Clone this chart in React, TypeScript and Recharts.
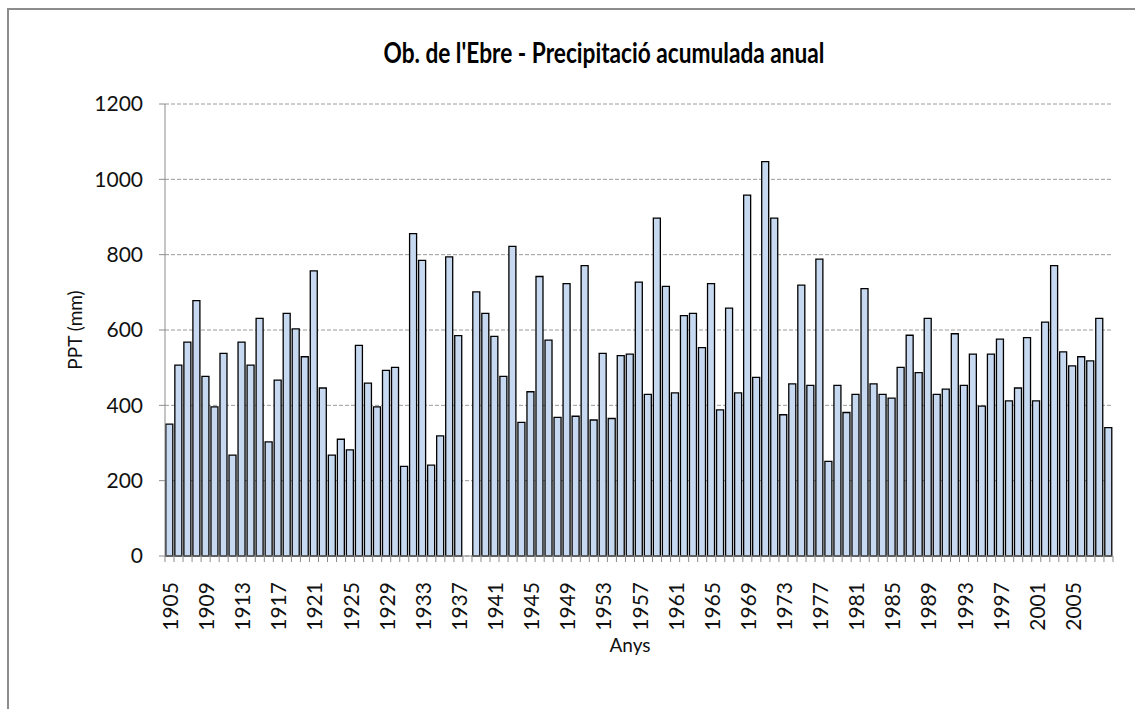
import React from 'react';
import { BarChart, Bar, XAxis, YAxis, CartesianGrid } from 'recharts';

// Anys 1905-2009 (1938 sense dades)
const years = [
  1905, 1906, 1907, 1908, 1909, 1910, 1911, 1912, 1913, 1914,
  1915, 1916, 1917, 1918, 1919, 1920, 1921, 1922, 1923, 1924,
  1925, 1926, 1927, 1928, 1929, 1930, 1931, 1932, 1933, 1934,
  1935, 1936, 1937, 1938, 1939, 1940, 1941, 1942, 1943, 1944,
  1945, 1946, 1947, 1948, 1949, 1950, 1951, 1952, 1953, 1954,
  1955, 1956, 1957, 1958, 1959, 1960, 1961, 1962, 1963, 1964,
  1965, 1966, 1967, 1968, 1969, 1970, 1971, 1972, 1973, 1974,
  1975, 1976, 1977, 1978, 1979, 1980, 1981, 1982, 1983, 1984,
  1985, 1986, 1987, 1988, 1989, 1990, 1991, 1992, 1993, 1994,
  1995, 1996, 1997, 1998, 1999, 2000, 2001, 2002, 2003, 2004,
  2005, 2006, 2007, 2008, 2009,
];

const ppt: (number | null)[] = [
  350, 507, 568, 678, 477, 396, 538, 268, 568, 507,
  631, 303, 467, 644, 603, 529, 757, 446, 268, 310,
  282, 559, 459, 396, 493, 501, 238, 856, 785, 241,
  319, 794, 585, null, 701, 644, 583, 477, 822, 355,
  436, 742, 573, 368, 723, 371, 771, 361, 538, 365,
  532, 536, 727, 429, 897, 716, 433, 638, 644, 553,
  723, 388, 658, 433, 958, 474, 1047, 897, 375, 457,
  719, 453, 788, 251, 453, 381, 429, 710, 457, 429,
  419, 501, 586, 487, 631, 429, 443, 590, 453, 536,
  398, 536, 576, 412, 446, 580, 412, 621, 771, 542,
  505, 529, 518, 631, 341,
];

const yTicks = [0, 200, 400, 600, 800, 1000, 1200];

const data = years.map((y, i) => ({ year: String(y), ppt: ppt[i] }));

const FONT = 'Lato, "Open Sans", sans-serif';
const HALF_BAND = 4.515;

const YearTick = (props: any) => {
  const { x, y, payload, index } = props;
  const ty = y + 26;
  const last = index === years.length - 1;
  return (
    <g>
      <line x1={x - HALF_BAND} x2={x - HALF_BAND} y1={y} y2={y + 6} stroke="#8c8c8c" />
      {last && <line x1={x + HALF_BAND} x2={x + HALF_BAND} y1={y} y2={y + 6} stroke="#8c8c8c" />}
      {index % 4 === 0 && !last && (
        <text
          x={x}
          y={ty}
          transform={`rotate(-90 ${x} ${ty})`}
          textAnchor="end"
          dominantBaseline="central"
          fontSize={21}
          fontFamily={FONT}
          fill="#111"
        >
          {payload.value}
        </text>
      )}
    </g>
  );
};

export default function App() {
  return (
    <div style={{ position: 'absolute', left: 0, top: 0, width: 1135, height: 709, background: '#fff' }}>
      <div
        style={{
          position: 'absolute', left: 7, top: 8, width: 1128, height: 701, boxSizing: 'border-box',
          borderLeft: '2px solid #8c8c8c', borderTop: '2px solid #8c8c8c',
        }}
      />
      <div style={{ position: 'absolute', left: 0, top: 0 }}>
        <BarChart
          width={1135}
          height={709}
          data={data}
          margin={{ top: 104, right: 22, left: 105, bottom: 93 }}
          barCategoryGap="9%"
        >
          <CartesianGrid vertical={false} stroke="#9a9a9a" strokeDasharray="4 2" />
          <XAxis
            dataKey="year"
            interval={0}
            height={60}
            tickLine={false}
            tickSize={0}
            tickMargin={0}
            axisLine={{ stroke: '#8c8c8c' }}
            tick={<YearTick />}
          />
          <YAxis
            width={60}
            domain={[0, 1200]}
            ticks={yTicks}
            tickSize={6}
            tickMargin={16}
            axisLine={{ stroke: '#8c8c8c' }}
            tickLine={{ stroke: '#8c8c8c' }}
            tick={{ fontSize: 21, fill: '#111', fontFamily: FONT }}
          />
          <Bar dataKey="ppt" fill="#c6d9f1" stroke="#000" strokeWidth={1.3} isAnimationActive={false} />
        </BarChart>
      </div>
      <svg width={1135} height={709} style={{ position: 'absolute', left: 0, top: 0, pointerEvents: 'none' }}>
        <text
          x={604}
          y={63}
          textAnchor="middle"
          fontSize={28}
          fontWeight="bold"
          fontFamily={FONT}
          fill="#000"
          textLength={441}
          lengthAdjust="spacingAndGlyphs"
        >
          Ob. de l'Ebre - Precipitació acumulada anual
        </text>
        <text
          x={74}
          y={330}
          transform="rotate(-90 74 330)"
          textAnchor="middle"
          dominantBaseline="central"
          fontSize={19}
          fontFamily={FONT}
          fill="#111"
        >
          PPT (mm)
        </text>
        <text x={630} y={652} textAnchor="middle" fontSize={19} fontFamily={FONT} fill="#111">
          Anys
        </text>
      </svg>
    </div>
  );
}
